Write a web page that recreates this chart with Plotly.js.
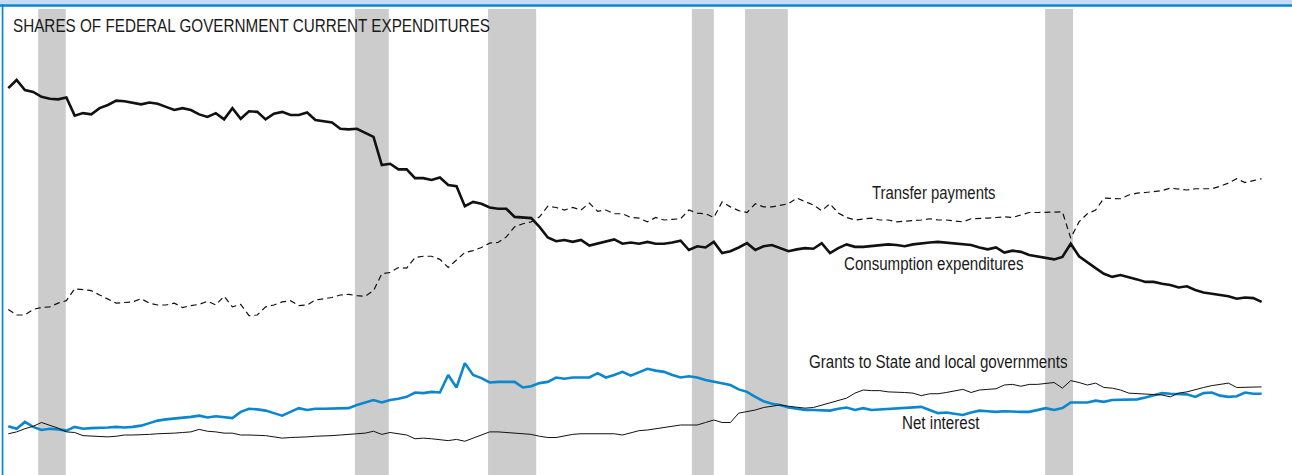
<!DOCTYPE html>
<html>
<head>
<meta charset="utf-8">
<script src="https://cdn.plot.ly/plotly-3.0.1.min.js"></script>
<style>
  html, body { margin: 0; padding: 0; background: #ffffff; }
  #chart { width: 1292px; height: 475px; }
</style>
</head>
<body>
<div id="chart"></div>
<script>
// Quarterly shares of federal government current expenditures (percent), 1959Q1 onward
const firstYear = 1959;
const seriesNames = ["Consumption expenditures", "Transfer payments", "Grants to State and local governments", "Net interest"];

const consumption = [
  61.1, 62.4, 60.8, 60.5, 59.7, 59.4, 59.3, 59.6, 56.7, 57.1,
  56.9, 57.9, 58.4, 59.1, 59.0, 58.8, 58.5, 58.8, 58.6, 58.1,
  57.6, 57.9, 57.6, 56.9, 56.5, 57.1, 56.1, 57.9, 56.2, 57.4,
  57.3, 56.1, 57.0, 57.3, 56.8, 56.8, 57.2, 56.0, 55.8, 55.6,
  54.6, 54.5, 54.6, 54.0, 53.3, 48.8, 49.0, 48.1, 48.1, 46.7,
  46.7, 46.4, 46.8, 45.6, 45.4, 42.2, 42.9, 42.6, 42.0, 41.8,
  41.8, 40.5, 40.4, 40.3, 38.9, 37.2, 36.6, 36.8, 36.5, 36.8,
  35.9, 36.2, 36.6, 36.9, 36.2, 36.4, 36.2, 36.5, 36.2, 36.2,
  36.4, 36.7, 35.2, 35.8, 35.6, 36.5, 34.7, 35.0, 35.6, 36.3,
  35.2, 35.8, 36.0, 35.5, 35.0, 35.3, 35.5, 35.4, 36.3, 34.7,
  35.5, 36.1, 35.7, 35.7, 35.8, 36.0, 36.1, 36.0, 35.8, 36.1,
  36.3, 36.4, 36.5, 36.4, 36.2, 36.2, 36.0, 35.6, 35.3, 35.6,
  34.8, 35.1, 34.9, 34.4, 34.2, 34.0, 33.7, 34.1, 36.2, 34.2,
  33.2, 32.3, 31.4, 30.9, 31.2, 30.9, 30.5, 30.1, 30.1, 29.8,
  29.6, 29.2, 29.4, 28.8, 28.4, 28.2, 28.0, 27.8, 27.4, 27.6,
  27.5, 26.9
];

const transfers = [
  25.7, 24.8, 24.8, 25.7, 26.0, 26.1, 26.7, 27.1, 29.0, 28.9,
  28.7, 28.0, 27.4, 26.7, 26.8, 26.9, 27.4, 26.7, 26.4, 26.4,
  26.7, 26.0, 26.3, 26.5, 27.0, 26.4, 27.8, 26.1, 26.5, 24.7,
  24.8, 26.1, 26.4, 26.9, 27.1, 26.3, 26.4, 27.2, 27.4, 27.6,
  28.0, 28.1, 27.9, 27.8, 28.7, 31.4, 31.6, 32.4, 32.3, 34.0,
  34.2, 34.2, 33.7, 32.4, 33.6, 34.8, 35.1, 35.6, 36.3, 36.4,
  37.3, 38.9, 39.4, 39.7, 40.5, 42.2, 42.0, 41.6, 42.0, 41.6,
  42.7, 41.4, 41.6, 41.0, 41.0, 40.4, 40.3, 39.7, 40.4, 40.0,
  40.1, 40.2, 41.6, 41.1, 41.0, 40.4, 42.9, 42.1, 41.5, 41.2,
  42.6, 42.1, 42.1, 42.4, 42.6, 43.5, 42.9, 42.4, 41.5, 42.6,
  41.1, 40.4, 40.0, 40.1, 40.3, 40.0, 40.0, 39.7, 39.8, 39.8,
  40.0, 40.2, 40.0, 40.0, 39.8, 39.7, 40.2, 40.2, 40.3, 40.4,
  40.5, 40.4, 40.8, 41.2, 41.2, 41.2, 41.2, 41.3, 37.1, 39.7,
  41.0, 41.6, 43.5, 43.4, 43.4, 44.0, 44.3, 44.4, 44.5, 44.7,
  45.1, 45.0, 44.8, 45.0, 45.0, 45.0, 45.4, 45.9, 46.6, 46.0,
  46.3, 46.6
];

const grants = [
  7.0, 6.6, 7.7, 6.9, 6.4, 6.6, 6.5, 6.3, 6.9, 6.6,
  6.7, 6.7, 6.8, 6.9, 6.8, 6.9, 7.1, 7.5, 7.9, 8.1,
  8.2, 8.4, 8.5, 8.7, 8.4, 8.6, 8.4, 8.3, 9.3, 9.8,
  9.7, 9.5, 9.1, 8.7, 9.3, 9.9, 9.6, 9.8, 9.8, 9.8,
  9.8, 9.9, 10.4, 10.8, 11.2, 10.8, 11.2, 11.4, 11.7, 12.4,
  12.3, 12.5, 12.4, 15.2, 13.2, 17.1, 15.2, 14.7, 14.0, 14.1,
  14.1, 14.1, 13.2, 13.4, 13.9, 14.1, 14.8, 14.6, 14.8, 14.8,
  14.8, 15.5, 14.8, 15.2, 15.7, 15.1, 15.7, 16.2, 15.9, 15.7,
  15.2, 14.8, 15.0, 14.8, 14.4, 14.1, 13.8, 13.6, 12.9, 12.5,
  11.7, 11.0, 10.6, 10.4, 10.0, 9.8, 9.6, 9.6, 9.5, 9.5,
  9.8, 10.0, 9.6, 9.9, 9.6, 9.7, 9.8, 9.9, 9.9, 10.1,
  10.1, 9.6, 9.1, 9.2, 9.0, 8.8, 9.2, 9.5, 9.4, 9.3,
  9.4, 9.3, 9.3, 9.3, 9.6, 9.9, 9.6, 9.9, 10.8, 10.8,
  10.8, 11.1, 10.9, 11.2, 11.2, 11.2, 11.3, 11.6, 12.0, 12.3,
  12.2, 12.2, 12.1, 11.7, 12.3, 12.4, 11.9, 11.7, 11.8, 12.4,
  12.2, 12.2
];

const netInterest = [
  5.8, 6.1, 6.6, 7.0, 7.6, 7.2, 6.7, 6.1, 6.0, 5.5,
  5.4, 5.4, 5.3, 5.4, 5.6, 5.6, 5.6, 5.7, 5.8, 5.8,
  5.9, 6.0, 6.1, 6.5, 6.2, 6.1, 5.9, 5.9, 5.6, 5.6,
  5.6, 5.5, 5.3, 5.1, 5.2, 5.2, 5.3, 5.4, 5.4, 5.5,
  5.6, 5.7, 5.8, 5.9, 6.2, 5.7, 6.0, 5.8, 5.6, 5.0,
  5.1, 5.0, 4.9, 4.7, 4.9, 4.6, 5.1, 5.6, 6.1, 6.1,
  6.0, 5.8, 5.8, 5.7, 5.4, 5.2, 5.2, 5.5, 5.7, 5.8,
  5.8, 5.9, 5.8, 5.8, 5.6, 6.0, 6.3, 6.4, 6.6, 6.8,
  6.9, 7.2, 7.2, 7.2, 7.6, 8.0, 7.6, 7.6, 9.1, 9.3,
  9.6, 10.0, 10.2, 10.4, 10.2, 10.0, 9.9, 10.0, 10.4, 10.8,
  11.2, 11.5, 12.3, 12.8, 12.7, 12.7, 12.5, 12.5, 12.4, 12.3,
  11.9, 12.2, 12.2, 12.4, 12.7, 12.9, 12.4, 12.8, 12.9, 13.0,
  13.6, 13.7, 13.4, 13.7, 13.7, 13.8, 14.0, 13.1, 14.3, 14.0,
  13.6, 13.9, 13.2, 13.1, 12.8, 12.3, 12.2, 12.2, 12.1, 12.0,
  11.7, 12.3, 12.5, 12.9, 13.2, 13.5, 13.7, 13.9, 13.2, 13.2,
  13.3, 13.3
];

// Recession periods (decimal years)
const recessionStart = [1960.15, 1969.69, 1973.70, 1979.84, 1981.44, 1990.48];
const recessionEnd   = [1960.98, 1970.71, 1975.15, 1980.50, 1982.73, 1991.32];

// Quarter dates (end of quarter, decimal years)
const dates = consumption.map((_, i) => firstYear + (i + 1) * 0.25);

const FONT = '"Liberation Sans Narrow", "Arial Narrow", "Liberation Sans", Arial, sans-serif';

const traces = [
  { x: dates, y: consumption, name: seriesNames[0], mode: 'lines',
    line: { color: '#111111', width: 2.6 } },
  { x: dates, y: transfers, name: seriesNames[1], mode: 'lines',
    line: { color: '#111111', width: 1.2, dash: '6px,4px' } },
  { x: dates, y: grants, name: seriesNames[2], mode: 'lines',
    line: { color: '#0a87cf', width: 2.6 } },
  { x: dates, y: netInterest, name: seriesNames[3], mode: 'lines',
    line: { color: '#111111', width: 1.0 } }
];

const shapes = recessionStart.map((s, i) => ({
  type: 'rect', xref: 'x', yref: 'paper', x0: s, x1: recessionEnd[i],
  y0: 0, y1: 1 - 9 / 475, fillcolor: '#cccccc', line: { width: 0 }, layer: 'below'
}));
// frame: light band + blue rule at top, blue rule on the left
shapes.push({ type: 'rect', xref: 'paper', yref: 'paper', x0: 0, x1: 1,
  y0: 1 - 4.3 / 475, y1: 1, fillcolor: '#c3ddf3', line: { width: 0 }, layer: 'above' });
shapes.push({ type: 'rect', xref: 'paper', yref: 'paper', x0: 0, x1: 1,
  y0: 1 - 6.7 / 475, y1: 1 - 4.3 / 475, fillcolor: '#0a84cf', line: { width: 0 }, layer: 'above' });
shapes.push({ type: 'rect', xref: 'paper', yref: 'paper', x0: 1.7 / 1292, x1: 3.4 / 1292,
  y0: 0, y1: 1 - 4.3 / 475, fillcolor: '#0a84cf', line: { width: 0 }, layer: 'above' });

// label text, left edge (px), vertical centre (px), size, condensed width (px)
const labelText  = ['SHARES OF FEDERAL GOVERNMENT CURRENT EXPENDITURES', seriesNames[1], seriesNames[0], seriesNames[2], seriesNames[3]];
const labelWidth = [477, 123.5, 179.5, 258.5, 77.5];

const txt = (text, xp, yp, size) => ({
  text: text, xref: 'paper', yref: 'paper', x: xp / 1292, y: 1 - yp / 475,
  xanchor: 'left', yanchor: 'middle', align: 'left', showarrow: false,
  font: { family: FONT, size: size, color: '#1a1a1a' }
});

const layout = {
  width: 1292, height: 475,
  margin: { l: 0, r: 0, t: 0, b: 0, pad: 0 },
  paper_bgcolor: '#ffffff', plot_bgcolor: '#ffffff',
  showlegend: false,
  xaxis: { range: [1959.0, 1997.915], visible: false, fixedrange: true },
  yaxis: { range: [-0.8, 75.2], visible: false, fixedrange: true },
  shapes: shapes,
  annotations: [
    txt(labelText[0], 10.7, 26, 18),
    txt(labelText[1], 870.3, 193, 17.5),
    txt(labelText[2], 842, 263.5, 17.5),
    txt(labelText[3], 807.3, 361.5, 17.5),
    txt(labelText[4], 899.7, 422.5, 17.5)
  ]
};

Plotly.newPlot('chart', traces, layout, { staticPlot: true, displayModeBar: false }).then(gd => {
  // condense the labels to the narrow lettering of the original
  const nodes = gd.querySelectorAll('.annotation-text');
  nodes.forEach((node, i) => {
    const w = labelWidth[i];
    if (!w) return;
    const natural = node.getComputedTextLength();
    if (natural > w) {
      node.setAttribute('textLength', w);
      node.setAttribute('lengthAdjust', 'spacingAndGlyphs');
    }
  });
});
</script>
</body>
</html>
